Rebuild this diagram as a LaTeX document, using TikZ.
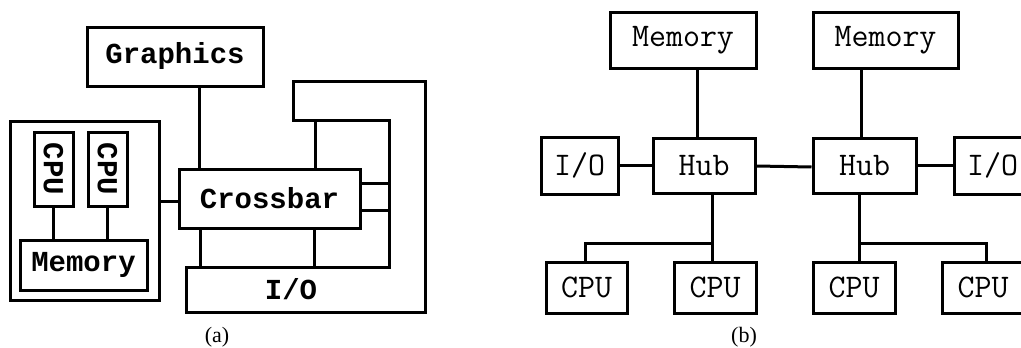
\documentclass[tikz,border=0pt]{standalone}
\usepackage{fontspec}
\setmainfont{Liberation Serif}
\newfontfamily\heavymono{Liberation Mono}
\begin{document}
\begin{tikzpicture}[x=1pt,y=-1pt,
  wire/.style={line width=3pt},
  unit/.style={draw,line width=3pt,inner sep=0pt,
    font=\fontsize{33}{33}\selectfont\ttfamily},
  boldunit/.style={unit,font=\fontsize{29}{29}\selectfont\heavymono\bfseries},
  caption/.style={font=\fontsize{22}{22}\selectfont}]
\clip (0,0) rectangle (1021,348);

% ---------- (a) crossbar system ----------
\node[boldunit,minimum width=149,minimum height=179] (board) at (84.5,210.5) {};
\node[boldunit,minimum width=39,minimum height=74] (acpu1) at (53.5,169) {\rotatebox{-90}{CPU}};
\node[boldunit,minimum width=39,minimum height=74] (acpu2) at (107.5,169) {\rotatebox{-90}{CPU}};
\node[boldunit,minimum width=127,minimum height=50] (amem) at (83.5,265) {Memory};
\node[boldunit,minimum width=176,minimum height=59] (gfx) at (175,56.5) {Graphics};
\node[boldunit,minimum width=181,minimum height=59] (xbar) at (269.5,198.5) {Crossbar};

% I/O outline wrapping round the crossbar
\coordinate (io1) at (186,267);
\coordinate (io2) at (389,267);
\coordinate (io3) at (389,120);
\coordinate (io4) at (293,120);
\coordinate (io5) at (293,81);
\coordinate (io6) at (425,81);
\coordinate (io7) at (425,312);
\coordinate (io8) at (186,312);
\draw[wire] (io1) -- (io2) -- (io3) -- (io4) -- (io5) -- (io6) -- (io7) -- (io8) -- cycle;
\node[font=\fontsize{29}{29}\selectfont\heavymono\bfseries,inner sep=0pt] (aio) at (291,289) {I/O};

\draw[wire] (acpu1.south) -- (acpu1.south |- amem.north);
\draw[wire] (acpu2.south) -- (acpu2.south |- amem.north);
\draw[wire] (board.east |- 0,201) -- (xbar.west |- 0,201);
\draw[wire] (199,0 |- gfx.south) -- (199,0 |- xbar.north);
\draw[wire] (315,0 |- xbar.north) -- (315,0 |- io3);
\draw[wire] (xbar.east |- 0,183) -- (io2 |- 0,183);
\draw[wire] (xbar.east |- 0,210) -- (io2 |- 0,210);
\draw[wire] (200,0 |- xbar.south) -- (200,0 |- io1);
\draw[wire] (314,0 |- xbar.south) -- (314,0 |- io1);

\node[caption] (capa) at (217,337) {(a)};

% ---------- (b) hub-based system ----------
\node[unit,minimum width=146,minimum height=56] (mem1) at (683,40) {Memory};
\node[unit,minimum width=145,minimum height=56] (mem2) at (885.5,40) {Memory};
\node[unit,minimum width=77,minimum height=57] (iol) at (579.5,165.5) {I/O};
\node[unit,minimum width=102,minimum height=55] (hub1) at (704,165.5) {Hub};
\node[unit,minimum width=103,minimum height=55] (hub2) at (864.5,165.5) {Hub};
\node[unit,minimum width=77,minimum height=57] (ior) at (992.5,165.5) {I/O};
\node[unit,minimum width=81,minimum height=51] (bcpu1) at (586.5,287.5) {CPU};
\node[unit,minimum width=82,minimum height=51] (bcpu2) at (715,287.5) {CPU};
\node[unit,minimum width=82,minimum height=51] (bcpu3) at (854,287.5) {CPU};
\node[unit,minimum width=82,minimum height=51] (bcpu4) at (983,287.5) {CPU};

\draw[wire] (697,0 |- mem1.south) -- (697,0 |- hub1.north);
\draw[wire] (861,0 |- mem2.south) -- (861,0 |- hub2.north);
\draw[wire] (iol.east |- 0,165) -- (hub1.west |- 0,165);
\draw[wire] (hub1.east |- 0,166) -- (hub2.west |- 0,167);
\draw[wire] (hub2.east |- 0,165) -- (ior.west |- 0,165);

\coordinate (tapl) at (712,243);
\coordinate (tapr) at (859,243);
\draw[wire] (tapl |- hub1.south) -- (tapl |- bcpu2.north);
\draw[wire] (tapl) -- (585,243) -- (585,0 |- bcpu1.north);
\draw[wire] (tapr |- hub2.south) -- (tapr |- bcpu3.north);
\draw[wire] (tapr) -- (986,243) -- (986,0 |- bcpu4.north);

\node[caption] (capb) at (744,337) {(b)};
\end{tikzpicture}
\end{document}
